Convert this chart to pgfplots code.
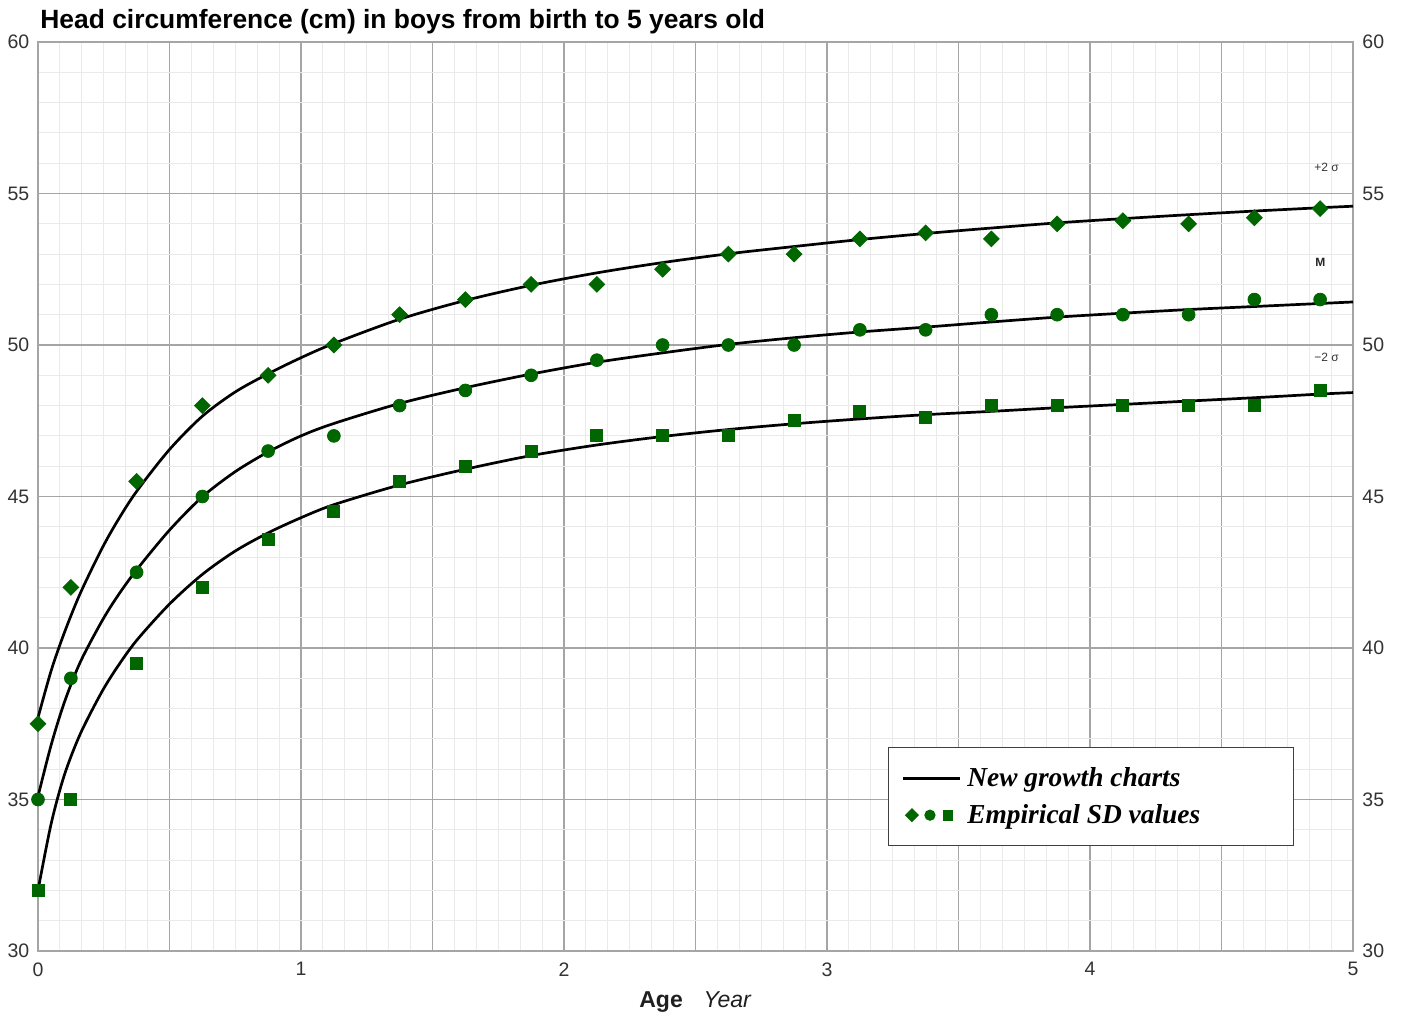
\documentclass[border=0pt]{standalone}
\usepackage{pgfplots}
\pgfplotsset{compat=1.18}
\usepackage{pgfplotstable}
\usepackage{fontspec}
\setmainfont{Liberation Sans}
\newfontfamily\legfont{Liberation Serif}
\definecolor{dgreen}{RGB}{0,102,0}
\definecolor{ticktext}{RGB}{51,51,51}
\definecolor{minorgrid}{RGB}{234,234,234}
\definecolor{majorgrid}{RGB}{165,165,165}

% smoothed curves: x, +2 sigma, M, -2 sigma
\pgfplotstableread{
x      up      mid     low
0      37.70   35.10   32.00
0.05   39.25   36.80   34.20
0.1    40.50   38.20   35.80
0.16   41.79   39.52   37.15
0.24   43.23   40.84   38.51
0.3    44.16   41.68   39.35
0.375  45.17   42.58   40.25
0.5    46.55   43.89   41.45
0.625  47.65   44.99   42.43
0.75   48.45   45.82   43.20
0.875  49.05   46.47   43.80
1.0    49.58   47.00   44.30
1.125  50.05   47.41   44.73
1.375  50.85   48.07   45.38
1.625  51.47   48.59   45.90
1.875  51.97   49.04   46.35
2.125  52.38   49.43   46.70
2.375  52.72   49.74   46.98
2.625  53.01   50.02   47.21
2.875  53.25   50.24   47.40
3.125  53.48   50.43   47.56
3.375  53.68   50.59   47.70
3.625  53.86   50.76   47.81
3.875  54.03   50.92   47.93
4.125  54.17   51.05   48.04
4.375  54.30   51.17   48.15
4.625  54.42   51.27   48.26
4.875  54.53   51.37   48.38
5.0    54.58   51.42   48.43
}\curves

\pgfplotstableread{
x      up     mid    low
0      37.5   35.0   32.0
0.125  42.0   39.0   35.0
0.375  45.5   42.5   39.5
0.625  48.0   45.0   42.0
0.875  49.0   46.5   43.6
1.125  50.0   47.0   44.5
1.375  51.0   48.0   45.5
1.625  51.5   48.5   46.0
1.875  52.0   49.0   46.5
2.125  52.0   49.5   47.0
2.375  52.5   50.0   47.0
2.625  53.0   50.0   47.0
2.875  53.0   50.0   47.5
3.125  53.5   50.5   47.8
3.375  53.7   50.5   47.6
3.625  53.5   51.0   48.0
3.875  54.0   51.0   48.0
4.125  54.1   51.0   48.0
4.375  54.0   51.0   48.0
4.625  54.2   51.5   48.0
4.875  54.5   51.5   48.5
}\points

\begin{document}
\begin{tikzpicture}
\useasboundingbox (-19pt,-33pt) rectangle (682.5pt,475.5pt);
\begin{axis}[
  width=657.5pt, height=454.5pt, scale only axis,
  xmin=0, xmax=5, ymin=30, ymax=60,
  xtick={0,0.5,...,5},
  xticklabels={0,,1,,2,,3,,4,,5},
  ytick={30,35,...,60},
  minor x tick num=5,
  minor y tick num=4,
  grid=both,
  minor grid style={draw=minorgrid, line width=0.5pt},
  major grid style={draw=majorgrid, line width=0.6pt},
  major tick length=0pt, minor tick length=0pt,
  axis line style={draw=majorgrid, line width=0.7pt},
  /pgf/number format/assume math mode=true,
  tick label style={font=\fontsize{9.75pt}{11pt}\selectfont, text=ticktext},
  xticklabel style={anchor=north, yshift=-2.2pt},
  yticklabel style={anchor=east, xshift=-0.8pt},
  ytick pos=left,
  xlabel={\textbf{Age}\hspace{0.9em}\textit{Year}},
  xlabel style={at={(axis description cs:0.5,0)}, anchor=base, yshift=-28pt, font=\fontsize{11.5pt}{13pt}\selectfont, text=black!88},
  clip=false,
  legend cell align=left,
  legend style={at={(axis cs:3.232,36.73)}, anchor=north west, draw=black!75, line width=0.6pt,
    fill=white, inner xsep=6.5pt, inner ysep=7pt, row sep=2pt,
    nodes={inner sep=1pt, text height=11.5pt, text depth=3pt},
    font=\legfont\bfseries\itshape\fontsize{13.7pt}{15pt}\selectfont},
]
\addlegendimage{legend image code/.code={\draw[black, line width=1.35pt] (-1pt,0pt) -- (27.5pt,0pt);}}
\addlegendentry{\hspace*{2pt}\makebox[155.5pt][l]{New growth charts}}
\addlegendimage{legend image code/.code={
  \draw[dgreen, fill=dgreen] plot[mark=square*, mark size=2.2pt, mark options={rotate=45}] coordinates {(3.5pt,0pt)};
  \draw[dgreen, fill=dgreen] plot[mark=*, mark size=2.5pt] coordinates {(12.5pt,0pt)};
  \draw[dgreen, fill=dgreen] plot[mark=square*, mark size=2.4pt] coordinates {(21.5pt,0pt)};
  \path (-1pt,0pt) (27.5pt,0pt);
}}
\addlegendentry{\hspace*{2pt}\makebox[155.5pt][l]{Empirical SD values}}

\addplot[black, line width=1.35pt, smooth, tension=0.5, forget plot] table[x=x, y=up] {\curves};
\addplot[black, line width=1.35pt, smooth, tension=0.5, forget plot] table[x=x, y=mid] {\curves};
\addplot[black, line width=1.35pt, smooth, tension=0.5, forget plot] table[x=x, y=low] {\curves};

\addplot[only marks, mark=square*, mark size=2.77pt, mark options={rotate=45, draw=dgreen, fill=dgreen}, forget plot] table[x=x, y=up] {\points};
\addplot[only marks, mark=*, mark size=3.2pt, mark options={draw=dgreen, fill=dgreen}, forget plot] table[x=x, y=mid] {\points};
\addplot[only marks, mark=square*, mark size=3pt, mark options={draw=dgreen, fill=dgreen}, forget plot] table[x=x, y=low] {\points};

\node[font=\fontsize{6pt}{7pt}\selectfont, text=black!80] at (axis cs:4.90,55.87) {+2 σ};
\node[font=\bfseries\fontsize{6pt}{7pt}\selectfont, text=black!85] at (axis cs:4.876,52.73) {M};
\node[font=\fontsize{6pt}{7pt}\selectfont, text=black!80] at (axis cs:4.90,49.6) {−2 σ};

\node[anchor=base west, font=\bfseries\fontsize{13.2pt}{15pt}\selectfont, inner sep=0pt] at ([xshift=1pt, yshift=6.5pt]rel axis cs:0,1) {Head circumference (cm) in boys from birth to 5 years old};
\end{axis}
\begin{axis}[
  width=657.5pt, height=454.5pt, scale only axis,
  xmin=0, xmax=5, ymin=30, ymax=60,
  hide x axis,
  axis y line*=right,
  axis line style={draw=none},
  ytick={30,35,...,60},
  major tick length=0pt,
  /pgf/number format/assume math mode=true,
  tick label style={font=\fontsize{9.75pt}{11pt}\selectfont, text=ticktext},
  yticklabel style={anchor=west, xshift=1.2pt},
]
\end{axis}
\end{tikzpicture}
\end{document}
